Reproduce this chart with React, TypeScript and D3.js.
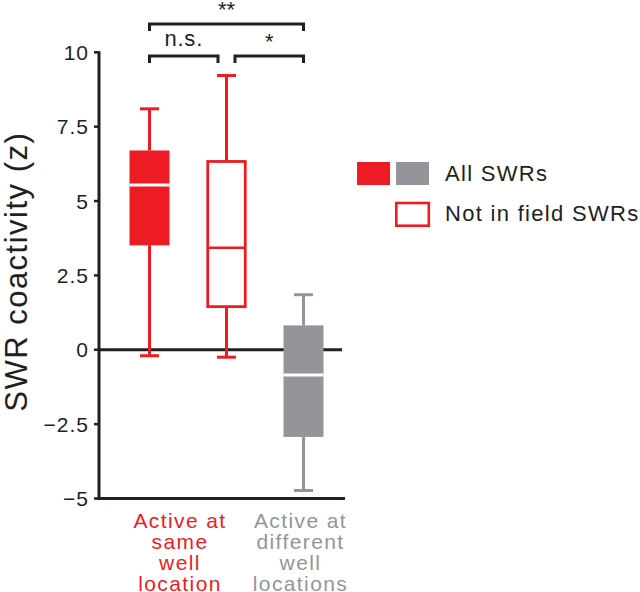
import React from "react";
import * as d3 from "d3";

const groups = ["sameAll", "sameNotInField", "diffAll"];
const whiskerHigh = [8.1, 9.22, 1.85];
const q3 = [6.7, 6.33, 0.82];
const medians = [5.54, 3.43, -0.85];
const q1 = [3.51, 1.45, -2.93];
const whiskerLow = [-0.2, -0.25, -4.73];
const boxStyle = ["filled-red", "outline-red", "filled-gray"];
const yTicks = [-5, -2.5, 0, 2.5, 5, 7.5, 10];
const yTickLabels = ["\u22125", "\u22122.5", "0", "2.5", "5", "7.5", "10"];
const yLabel = "SWR coactivity (z)";
const redLabelLines = ["Active at", "same", "well", "location"];
const grayLabelLines = ["Active at", "different", "well", "locations"];
const legendLabels = ["All SWRs", "Not in field SWRs"];
const comparisons = [
  { from: 0, to: 2, label: "**", level: 2 },
  { from: 0, to: 1, label: "n.s.", level: 1 },
  { from: 1, to: 2, label: "*", level: 1 },
];

const RED = "#ED1C24";
const GRAY = "#939598";
const DARK = "#231F20";
const FONT = "'Liberation Sans', Arial, Helvetica, sans-serif";

export default function App() {
  const width = 640;
  const height = 592;
  const y = d3.scaleLinear().domain([-5, 10]).range([498.5, 52.3]);
  const x = d3.scalePoint<string>().domain(groups).range([149.5, 303.5]);
  const axisX = 99;
  const boxW = 40;
  const capW = 19;

  const xs = groups.map((g) => x(g) as number);

  const bracketY = (level: number) => (level === 2 ? 24 : 56);

  return (
    <svg
      width={width}
      height={height}
      style={{ position: "absolute", left: 0, top: 0, background: "#fff" }}
      fontFamily={FONT}
    >
      {/* y axis */}
      <line x1={axisX} x2={axisX} y1={y(10) - 1} y2={y(-5) + 1.5} stroke={DARK} strokeWidth={3} />
      <line x1={axisX - 1.5} x2={345} y1={y(-5)} y2={y(-5)} stroke={DARK} strokeWidth={3} />
      {yTicks.map((t, i) => (
        <g key={t}>
          <line x1={axisX - 5} x2={axisX} y1={y(t)} y2={y(t)} stroke={DARK} strokeWidth={2.5} />
          <text
            x={89}
            y={y(t)}
            dy="0.36em"
            textAnchor="end"
            fontSize={21}
            letterSpacing={1}
            fill={DARK}
          >
            {yTickLabels[i]}
          </text>
        </g>
      ))}
      <text
        transform={`translate(27, ${271.7}) rotate(-90)`}
        textAnchor="middle"
        fontSize={31}
        letterSpacing={1.5}
        fill={DARK}
      >
        {yLabel}
      </text>

      {/* zero line */}
      <line x1={axisX} x2={342} y1={y(0)} y2={y(0)} stroke={DARK} strokeWidth={3} />

      {/* boxes */}
      {groups.map((g, i) => {
        const cx = xs[i];
        const color = boxStyle[i].endsWith("gray") ? GRAY : RED;
        const filled = boxStyle[i].startsWith("filled");
        return (
          <g key={g}>
            <line x1={cx} x2={cx} y1={y(whiskerHigh[i])} y2={y(q3[i])} stroke={color} strokeWidth={3} />
            <line x1={cx} x2={cx} y1={y(q1[i])} y2={y(whiskerLow[i])} stroke={color} strokeWidth={3} />
            <line x1={cx - capW / 2} x2={cx + capW / 2} y1={y(whiskerHigh[i])} y2={y(whiskerHigh[i])} stroke={color} strokeWidth={3} />
            <line x1={cx - capW / 2} x2={cx + capW / 2} y1={y(whiskerLow[i])} y2={y(whiskerLow[i])} stroke={color} strokeWidth={3} />
            {filled ? (
              <rect x={cx - boxW / 2} y={y(q3[i])} width={boxW} height={y(q1[i]) - y(q3[i])} fill={color} />
            ) : (
              <rect
                x={cx - boxW / 2 + 1.25}
                y={y(q3[i])}
                width={boxW - 2.5}
                height={y(q1[i]) - y(q3[i])}
                fill="#fff"
                stroke={color}
                strokeWidth={2.8}
              />
            )}
            <line
              x1={cx - boxW / 2 + (filled ? 0 : 2.5)}
              x2={cx + boxW / 2 - (filled ? 0 : 2.5)}
              y1={y(medians[i])}
              y2={y(medians[i])}
              stroke={filled ? "#fff" : color}
              strokeWidth={filled ? 3 : 2.5}
            />
          </g>
        );
      })}

      {/* significance brackets */}
      {comparisons.map((c, i) => {
        const x1 = xs[c.from] + (c.level === 1 && c.from === 1 ? 8.5 : 0);
        const x2 = xs[c.to] - (c.level === 1 && c.to === 1 ? 8.5 : 0);
        const by = bracketY(c.level);
        const isStar = c.label.includes("*");
        return (
          <g key={i}>
            <path
              d={`M${x1},${by + 7} V${by} H${x2} V${by + 7}`}
              fill="none"
              stroke={DARK}
              strokeWidth={3}
            />
            <text
              x={(x1 + x2) / 2}
              y={isStar ? by - 7 : by - 10.5}
              textAnchor="middle"
              fontSize={22}
              letterSpacing={isStar ? 0 : 0.8}
              fill={DARK}
            >
              {c.label}
            </text>
          </g>
        );
      })}

      {/* x category labels */}
      {redLabelLines.map((l, i) => (
        <text
          key={"r" + i}
          x={(xs[0] + xs[1]) / 2 - 8}
          y={528 + i * 21}
          textAnchor="middle"
          fontSize={21}
          letterSpacing={1.4}
          fill={RED}
        >
          {l}
        </text>
      ))}
      {grayLabelLines.map((l, i) => (
        <text
          key={"g" + i}
          x={xs[2] - 3}
          y={528 + i * 21}
          textAnchor="middle"
          fontSize={21}
          letterSpacing={1.4}
          fill={GRAY}
        >
          {l}
        </text>
      ))}

      {/* legend */}
      <rect x={357} y={162} width={33} height={23} fill={RED} />
      <rect x={396} y={162} width={33} height={23} fill={GRAY} />
      <rect x={396.3} y={203} width={32.5} height={22.7} fill="#fff" stroke={RED} strokeWidth={2.6} />
      <text x={445} y={181} fontSize={22} letterSpacing={1.3} fill={DARK}>
        {legendLabels[0]}
      </text>
      <text x={445} y={221} fontSize={22} letterSpacing={1.3} fill={DARK}>
        {legendLabels[1]}
      </text>
    </svg>
  );
}
